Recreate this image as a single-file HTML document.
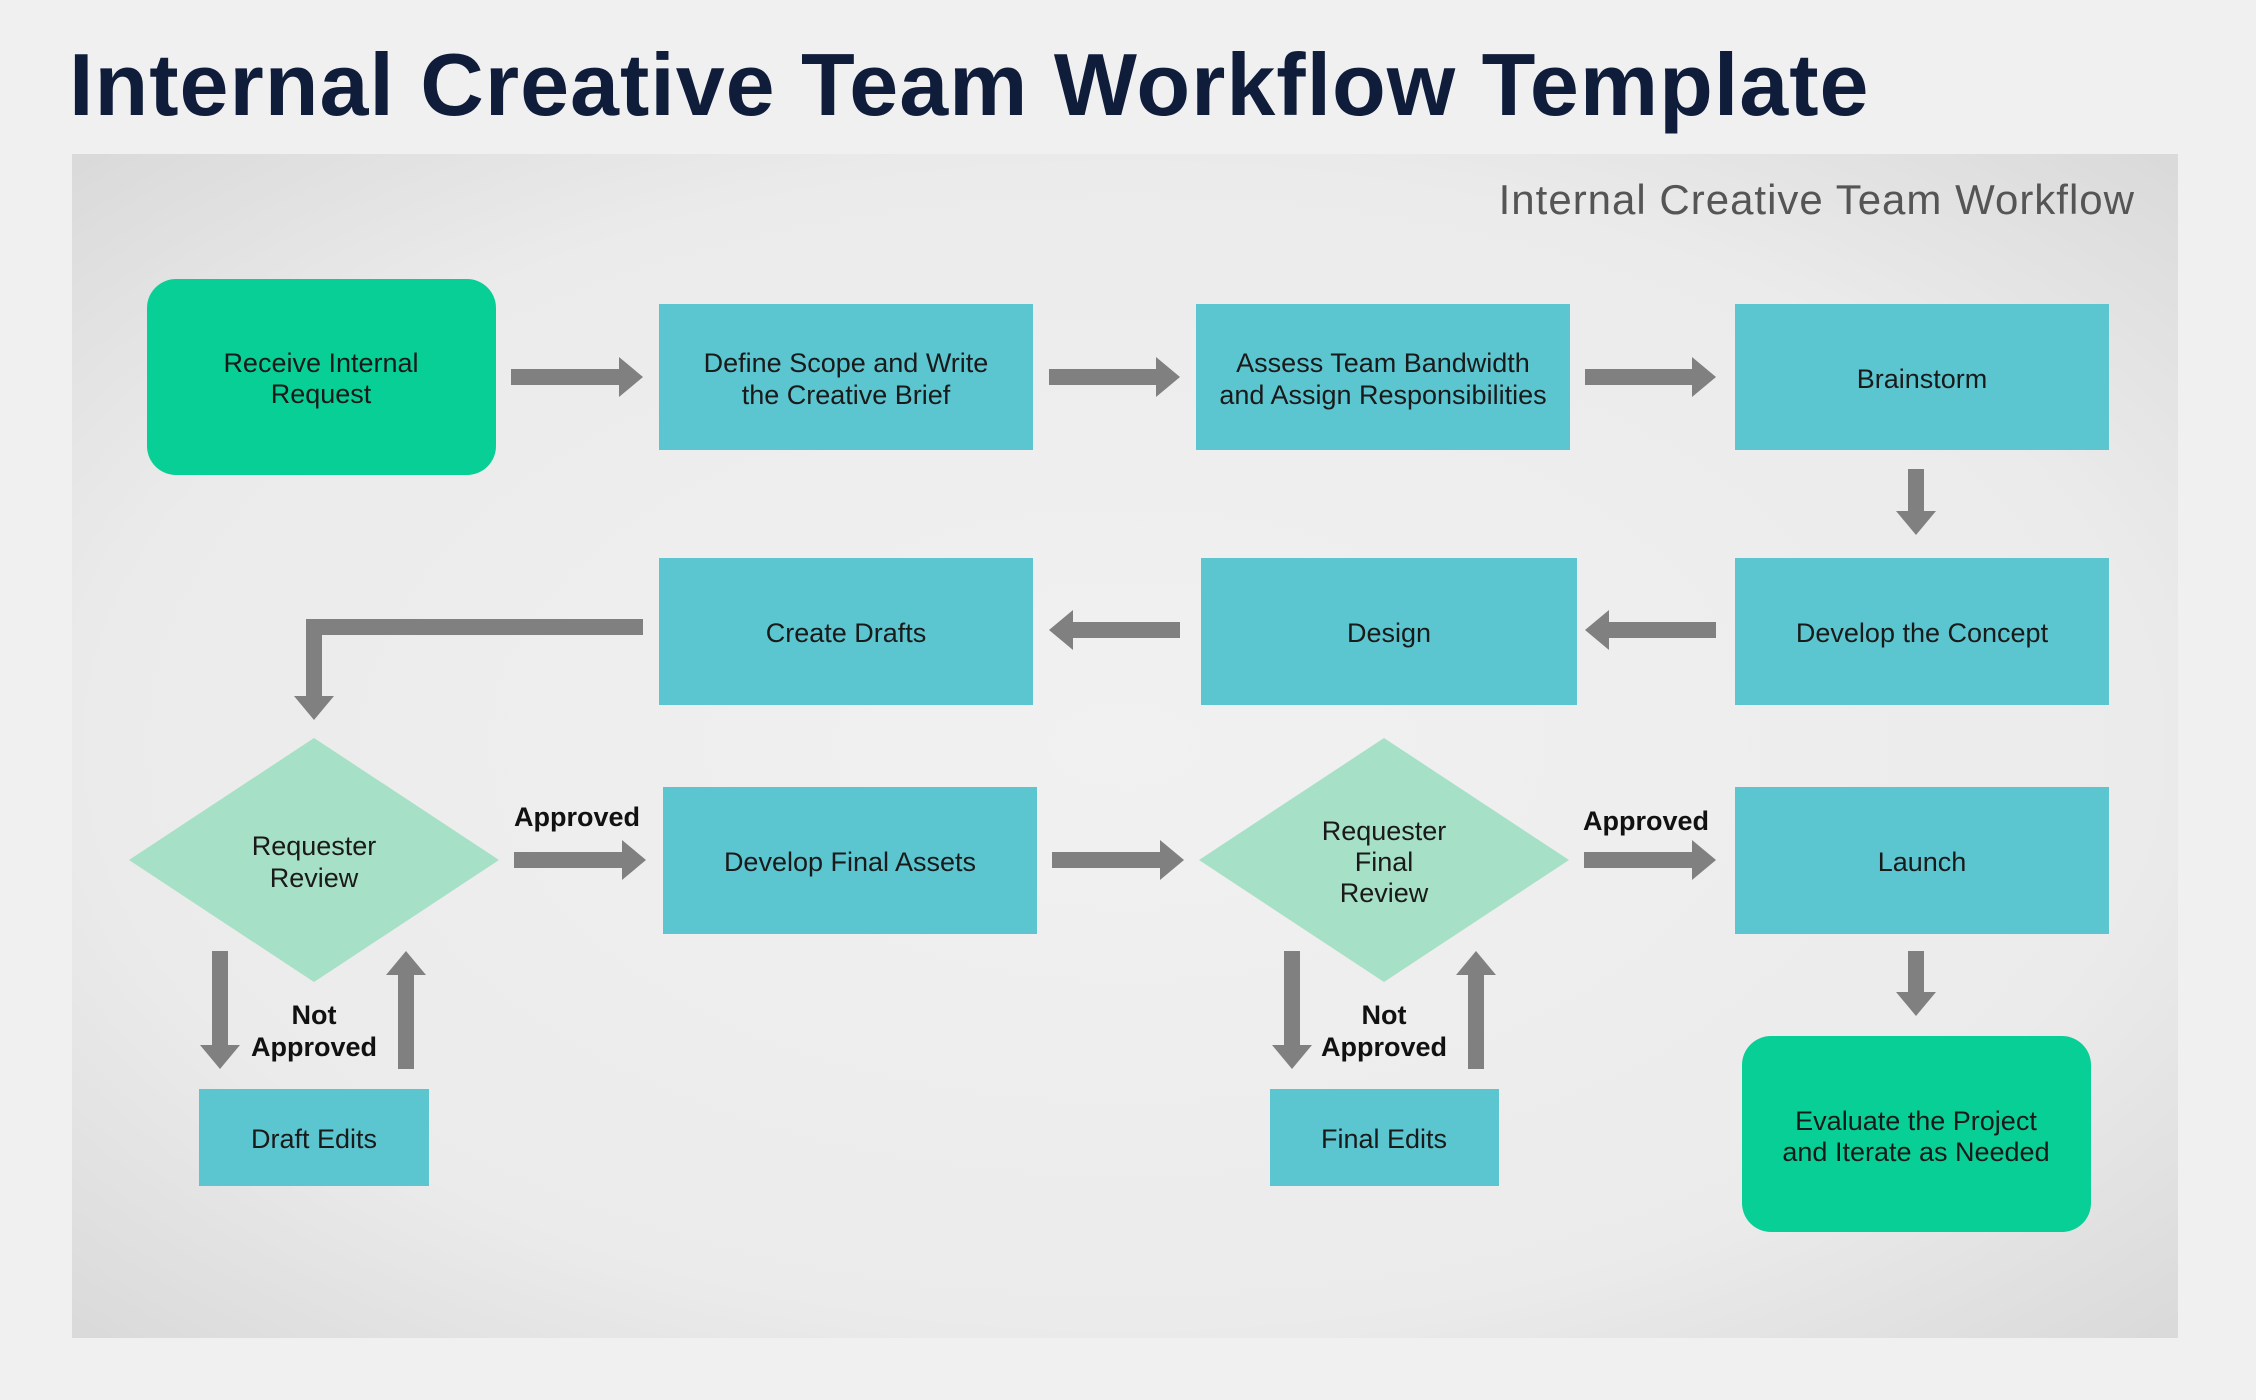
<!DOCTYPE html>
<html><head><meta charset="utf-8"><style>
html,body{margin:0;padding:0;background:#f0f0f0;}
body{width:2256px;height:1400px;overflow:hidden;position:relative;font-family:"Liberation Sans",sans-serif;}
h1{position:absolute;left:69px;top:34px;margin:0;font-size:88px;font-weight:bold;color:#0f1d3a;letter-spacing:1px;}
</style></head><body>
<h1>Internal Creative Team Workflow Template</h1>
<svg width="2256" height="1400" style="position:absolute;left:0;top:0" xmlns="http://www.w3.org/2000/svg">
<defs>
<radialGradient id="bg" cx="50%" cy="50%" r="70%">
<stop offset="0" stop-color="#f1f1f1"/><stop offset="0.7" stop-color="#ebebeb"/><stop offset="1" stop-color="#dadada"/>
</radialGradient>
<marker id="ah" viewBox="0 0 24 40" refX="1" refY="20" markerWidth="24" markerHeight="40" markerUnits="userSpaceOnUse" orient="auto">
<path d="M0,0 L24,20 L0,40 z" fill="#808080"/></marker>
</defs>
<rect x="72" y="154" width="2106" height="1184" fill="url(#bg)"/>
<text x="2135" y="214" text-anchor="end" font-size="42" letter-spacing="1" fill="#555">Internal Creative Team Workflow</text>
<g fill="#5bc5d0">
<rect x="659" y="304" width="374" height="146"/>
<rect x="1196" y="304" width="374" height="146"/>
<rect x="1735" y="304" width="374" height="146"/>
<rect x="659" y="558" width="374" height="147"/>
<rect x="1201" y="558" width="376" height="147"/>
<rect x="1735" y="558" width="374" height="147"/>
<rect x="663" y="787" width="374" height="147"/>
<rect x="1735" y="787" width="374" height="147"/>
<rect x="199" y="1089" width="230" height="97"/>
<rect x="1270" y="1089" width="229" height="97"/>
</g>
<g fill="#08cf95">
<rect x="147" y="279" width="349" height="196" rx="29"/>
<rect x="1742" y="1036" width="349" height="196" rx="29"/>
</g>
<g fill="#a6e0c6">
<polygon points="314,738 499,860 314,982 129,860"/>
<polygon points="1384,738 1569,860 1384,982 1199,860"/>
</g>
<g stroke="#808080" stroke-width="16" fill="none" marker-end="url(#ah)">
<line x1="511" y1="377" x2="620" y2="377"/>
<line x1="1049" y1="377" x2="1157" y2="377"/>
<line x1="1585" y1="377" x2="1693" y2="377"/>
<line x1="1916" y1="469" x2="1916" y2="512"/>
<line x1="1716" y1="630" x2="1608" y2="630"/>
<line x1="1180" y1="630" x2="1072" y2="630"/>
<polyline points="643,627 314,627 314,697"/>
<line x1="514" y1="860" x2="623" y2="860"/>
<line x1="1052" y1="860" x2="1161" y2="860"/>
<line x1="1584" y1="860" x2="1693" y2="860"/>
<line x1="220" y1="951" x2="220" y2="1046"/>
<line x1="406" y1="1069" x2="406" y2="974"/>
<line x1="1292" y1="951" x2="1292" y2="1046"/>
<line x1="1476" y1="1069" x2="1476" y2="974"/>
<line x1="1916" y1="951" x2="1916" y2="993"/>
</g>
<g font-size="27" fill="#1a1a1a" text-anchor="middle">
<text x="321" y="372">Receive Internal</text><text x="321" y="403">Request</text>
<text x="846" y="372">Define Scope and Write</text><text x="846" y="404">the Creative Brief</text>
<text x="1383" y="372">Assess Team Bandwidth</text><text x="1383" y="404">and Assign Responsibilities</text>
<text x="1922" y="388">Brainstorm</text>
<text x="846" y="642">Create Drafts</text>
<text x="1389" y="642">Design</text>
<text x="1922" y="642">Develop the Concept</text>
<text x="850" y="871">Develop Final Assets</text>
<text x="1922" y="871">Launch</text>
<text x="314" y="855">Requester</text><text x="314" y="887">Review</text>
<text x="1384" y="840">Requester</text><text x="1384" y="871">Final</text><text x="1384" y="902">Review</text>
<text x="314" y="1148">Draft Edits</text>
<text x="1384" y="1148">Final Edits</text>
<text x="1916" y="1130">Evaluate the Project</text><text x="1916" y="1161">and Iterate as Needed</text>
</g>
<g font-size="27" font-weight="bold" fill="#111" text-anchor="middle">
<text x="577" y="826">Approved</text>
<text x="1646" y="830">Approved</text>
<text x="314" y="1024">Not</text><text x="314" y="1056">Approved</text>
<text x="1384" y="1024">Not</text><text x="1384" y="1056">Approved</text>
</g>
</svg>
</body></html>
